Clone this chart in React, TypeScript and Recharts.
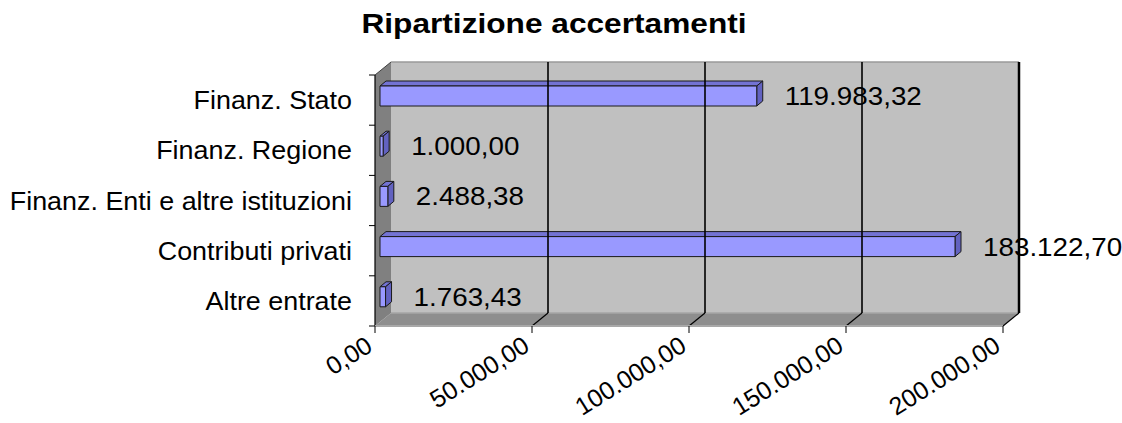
import { BarChart, Bar, XAxis, YAxis, ReferenceArea, ReferenceLine, LabelList } from 'recharts'

const CATEGORIES = [
  'Finanz. Stato',
  'Finanz. Regione',
  'Finanz. Enti e altre istituzioni',
  'Contributi privati',
  'Altre entrate',
]
const VALUES = [119983.32, 1000.0, 2488.38, 183122.7, 1763.43]
const X_TICKS = [0, 50000, 100000, 150000, 200000]
const X_MAX = 200000

const rows = CATEGORIES.map((name, i) => ({ name, value: VALUES[i] }))

// 3D depth of the walls, and where the bar slab sits inside that depth
const DX = 16
const DY = 13
const BAR_OFF_X = 5
const BAR_OFF_Y = 4
const BAR_DX = 6
const BAR_DY = 5

const FONT = '"Liberation Sans", Arial, sans-serif'

function fmt(v: number) {
  const [int, dec] = v.toFixed(2).split('.')
  return int.replace(/\B(?=(\d{3})+(?!\d))/g, '.') + ',' + dec
}

function Walls(props: any) {
  const { x, y, width, height } = props
  const bottom = y + height
  const n = CATEGORIES.length
  const ticks = []
  for (let i = 0; i <= n; i++) {
    const ty = y + (i * height) / n
    ticks.push(<line key={i} x1={x - 6} y1={ty} x2={x} y2={ty} stroke="#000" strokeWidth={1} />)
  }
  return (
    <g>
      {/* back wall */}
      <rect x={x + DX} y={y - DY} width={width} height={height} fill="#c0c0c0" />
      <line x1={x + DX} y1={y - DY} x2={x + DX + width} y2={y - DY} stroke="#9a9a9a" strokeWidth={1.5} />
      {/* floor */}
      <polygon
        points={`${x},${bottom} ${x + width},${bottom} ${x + width + DX},${bottom - DY} ${x + DX},${bottom - DY}`}
        fill="#8e8e8e"
      />
      <line x1={x + DX} y1={bottom - DY} x2={x + DX + width} y2={bottom - DY} stroke="#a6a6a6" strokeWidth={1.5} />
      {/* left wall */}
      <polygon
        points={`${x},${y} ${x + DX},${y - DY} ${x + DX},${bottom - DY} ${x},${bottom}`}
        fill="#808080"
      />
      <line x1={x} y1={y} x2={x + DX} y2={y - DY} stroke="#404040" strokeWidth={1} />
      <line x1={x} y1={y} x2={x} y2={bottom} stroke="#000" strokeWidth={1.2} />
      {ticks}
    </g>
  )
}

function GridLine3D(props: any) {
  const { x1, y1, y2, strokeWidth } = props
  const top = Math.min(y1, y2)
  const bottom = Math.max(y1, y2)
  return (
    <g>
      <line x1={x1 + DX} y1={top - DY} x2={x1 + DX} y2={bottom - DY} stroke="#000" strokeWidth={strokeWidth} />
      <line x1={x1 + DX} y1={bottom - DY} x2={x1} y2={bottom} stroke="#000" strokeWidth={1.2} />
    </g>
  )
}

function Bar3D(props: any) {
  const { x, y, width, height } = props
  const fx = x + BAR_OFF_X
  const fy = y - BAR_OFF_Y
  const w = Math.max(width, 1)
  return (
    <g stroke="#1a1a1a" strokeWidth={1} strokeLinejoin="round">
      <polygon
        points={`${fx},${fy} ${fx + w},${fy} ${fx + w + BAR_DX},${fy - BAR_DY} ${fx + BAR_DX},${fy - BAR_DY}`}
        fill="#7373d4"
      />
      <polygon
        points={`${fx + w},${fy} ${fx + w + BAR_DX},${fy - BAR_DY} ${fx + w + BAR_DX},${fy - BAR_DY + height} ${fx + w},${fy + height}`}
        fill="#6262c0"
      />
      <rect x={fx} y={fy} width={w} height={height} fill="#9999ff" />
    </g>
  )
}

function ValueLabel(props: any) {
  const { x, y, width, height, value } = props
  const tx = x + width + BAR_OFF_X + BAR_DX + 22
  const ty = y - BAR_OFF_Y + height / 2 + 9
  return (
    <text
      transform={`translate(${tx},${ty}) scale(1.07,1)`}
      fontSize={26}
      fontFamily={FONT}
      fill="#000"
    >
      {fmt(value)}
    </text>
  )
}

function YTick(props: any) {
  const { x, y, payload } = props
  return (
    <text
      transform={`translate(${x},${y + 9}) scale(1.035,1)`}
      textAnchor="end"
      fontSize={26}
      fontFamily={FONT}
      fill="#000"
    >
      {payload.value}
    </text>
  )
}

function XTick(props: any) {
  const { x, y, payload } = props
  return (
    <text
      x={x - 1}
      y={y}
      textAnchor="end"
      fontSize={25}
      fontFamily={FONT}
      fill="#000"
      transform={`rotate(-32, ${x - 1}, ${y})`}
    >
      {fmt(payload.value)}
    </text>
  )
}

export default function App() {
  return (
    <div style={{ position: 'absolute', left: 0, top: 0, width: 1122, height: 423, background: '#fff', fontFamily: FONT }}>
      <div
        style={{
          position: 'absolute',
          left: 0,
          top: 10,
          width: 1108,
          textAlign: 'center',
          fontSize: 28,
          lineHeight: '28px',
          fontWeight: 'bold',
          transform: 'scaleX(1.13)',
          transformOrigin: '554px 0',
        }}
      >
        Ripartizione accertamenti
      </div>
      <BarChart
        layout="vertical"
        width={1122}
        height={423}
        data={rows}
        margin={{ top: 75, right: 119, bottom: 37, left: 15 }}
      >
        <XAxis
          type="number"
          domain={[0, X_MAX]}
          ticks={X_TICKS}
          interval={0}
          height={60}
          tickSize={7}
          tickMargin={17}
          axisLine={{ stroke: '#a8a8a8', strokeWidth: 2 }}
          tickLine={{ stroke: '#000' }}
          tick={<XTick />}
        />
        <YAxis
          type="category"
          dataKey="name"
          width={360}
          axisLine={false}
          tickLine={false}
          tickSize={0}
          tickMargin={23}
          tick={<YTick />}
        />
        <ReferenceArea x1={0} x2={X_MAX} shape={<Walls />} ifOverflow="visible" />
        {X_TICKS.slice(1).map((t) => (
          <ReferenceLine
            key={t}
            x={t}
            strokeWidth={t === X_MAX ? 2.5 : 1.6}
            shape={<GridLine3D />}
            ifOverflow="visible"
          />
        ))}
        <Bar dataKey="value" barSize={20} isAnimationActive={false} shape={<Bar3D />}>
          <LabelList dataKey="value" content={<ValueLabel />} />
        </Bar>
      </BarChart>
    </div>
  )
}
